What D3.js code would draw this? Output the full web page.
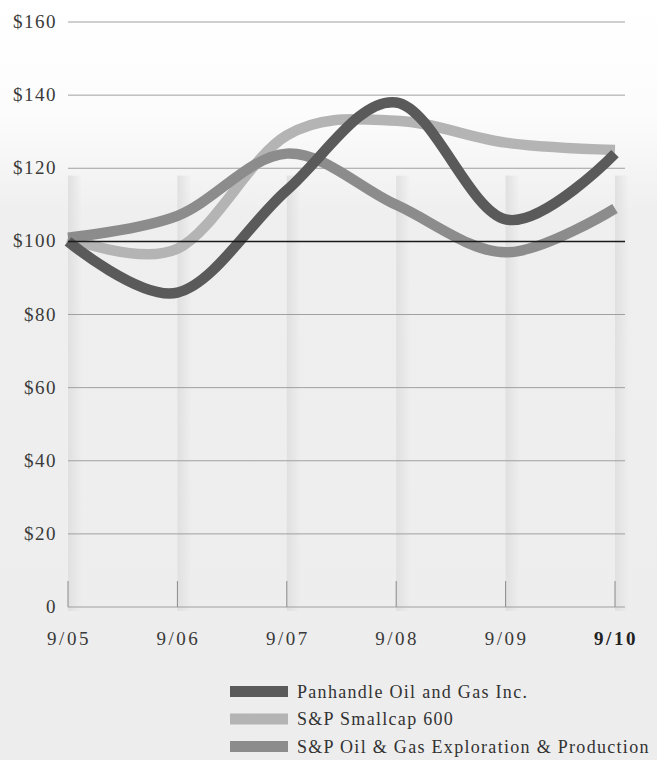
<!DOCTYPE html>
<html><head><meta charset="utf-8">
<script src="https://cdn.jsdelivr.net/npm/d3@7"></script>
<style>
html,body{margin:0;padding:0;background:#fff;}
svg{display:block;}
</style></head>
<body><div id="chart"></div>
<script>
const years = ["9/05","9/06","9/07","9/08","9/09","9/10"];
const panhandle = [100, 86, 114, 138, 106, 124];
const smallcap = [101, 98, 129, 133, 127, 125];
const oilgas = [101, 107, 124, 110, 97, 109];
const yTicks = [0, 20, 40, 60, 80, 100, 120, 140, 160];
const seriesNames = ["Panhandle Oil and Gas Inc.", "S&P Smallcap 600", "S&P Oil & Gas Exploration & Production"];
const seriesColors = ["#5a5a5a", "#b4b4b4", "#8c8c8c"];

const FONT = "Liberation Serif, DejaVu Serif, serif";
const W = 657, H = 760;
const svg = d3.select("#chart").append("svg").attr("width", W).attr("height", H)
  .attr("font-family", FONT);
const defs = svg.append("defs");

// background: white at top fading into light stipple grey
const bg = defs.append("linearGradient").attr("id","bg").attr("x1",0).attr("y1",0).attr("x2",0).attr("y2",1);
bg.append("stop").attr("offset","0%").attr("stop-color","#ffffff");
bg.append("stop").attr("offset","15%").attr("stop-color","#fcfcfc");
bg.append("stop").attr("offset","28%").attr("stop-color","#efefef");
bg.append("stop").attr("offset","100%").attr("stop-color","#ededed");
svg.append("rect").attr("width",W).attr("height",H).attr("fill","url(#bg)");

const band = defs.append("linearGradient").attr("id","band").attr("x1",0).attr("y1",0).attr("x2",1).attr("y2",0);
band.append("stop").attr("offset","0%").attr("stop-color","#e0e0e0").attr("stop-opacity",1);
band.append("stop").attr("offset","100%").attr("stop-color","#e0e0e0").attr("stop-opacity",0);

const x = d3.scalePoint().domain(years).range([68, 615]);
const y = d3.scaleLinear().domain([0, 160]).range([607, 22]);
const gridRight = 625;

// vertical stipple bands
svg.append("g").selectAll("rect").data(years).join("rect")
  .attr("x", d => x(d)).attr("y", y(118)).attr("width", 14)
  .attr("height", y(0) - y(118) + 4).attr("fill","url(#band)");

// gridlines
svg.append("g").selectAll("line").data(yTicks.filter(v => v !== 100)).join("line")
  .attr("x1", x(years[0])).attr("x2", gridRight)
  .attr("y1", d => y(d)).attr("y2", d => y(d))
  .attr("stroke", "#a0a0a0").attr("stroke-width", 1);

// x tick marks
svg.append("g").selectAll("line").data(years).join("line")
  .attr("x1", d => x(d)).attr("x2", d => x(d))
  .attr("y1", y(0) - 26).attr("y2", y(0))
  .attr("stroke", "#8a8a8a").attr("stroke-width", 1);

// y labels
svg.append("g").selectAll("text").data(yTicks).join("text")
  .attr("x", 57).attr("y", d => y(d) + 6)
  .attr("text-anchor","end").attr("font-size", 19).attr("letter-spacing", 1.5)
  .attr("fill", "#3a3a3a")
  .text(d => d === 0 ? "0" : "$" + d);

// x labels
svg.append("g").selectAll("text").data(years).join("text")
  .attr("x", d => x(d) + 1).attr("y", 645)
  .attr("text-anchor","middle").attr("font-size", 19).attr("letter-spacing", 2.5)
  .attr("font-weight", (d,i) => i === years.length - 1 ? "bold" : "normal")
  .attr("fill", (d,i) => i === years.length - 1 ? "#222" : "#3a3a3a")
  .text(d => d);

// series lines
const line = d3.line().x((d,i) => x(years[i])).y(d => y(d)).curve(d3.curveCardinal.tension(0));
const series = [smallcap, oilgas, panhandle];
const colors = [seriesColors[1], seriesColors[2], seriesColors[0]];
svg.append("g").selectAll("path").data(series).join("path")
  .attr("d", d => line(d)).attr("fill","none")
  .attr("stroke", (d,i) => colors[i]).attr("stroke-width", 10.5);

// $100 baseline
svg.append("line").attr("x1", x(years[0])).attr("x2", gridRight)
  .attr("y1", y(100)).attr("y2", y(100)).attr("stroke", "#1a1a1a").attr("stroke-width", 1.5);

// legend
const lg = svg.append("g").selectAll("g").data(seriesNames).join("g")
  .attr("transform", (d,i) => `translate(230, ${692 + i * 27.5})`);
lg.append("rect").attr("x", 0).attr("y", -6).attr("width", 58).attr("height", 11)
  .attr("fill", (d,i) => seriesColors[i]);
lg.append("text").attr("x", 67).attr("y", 5.5).attr("font-size", 18)
  .attr("letter-spacing", 1.3)
  .attr("fill", "#333").text(d => d);
</script></body></html>
